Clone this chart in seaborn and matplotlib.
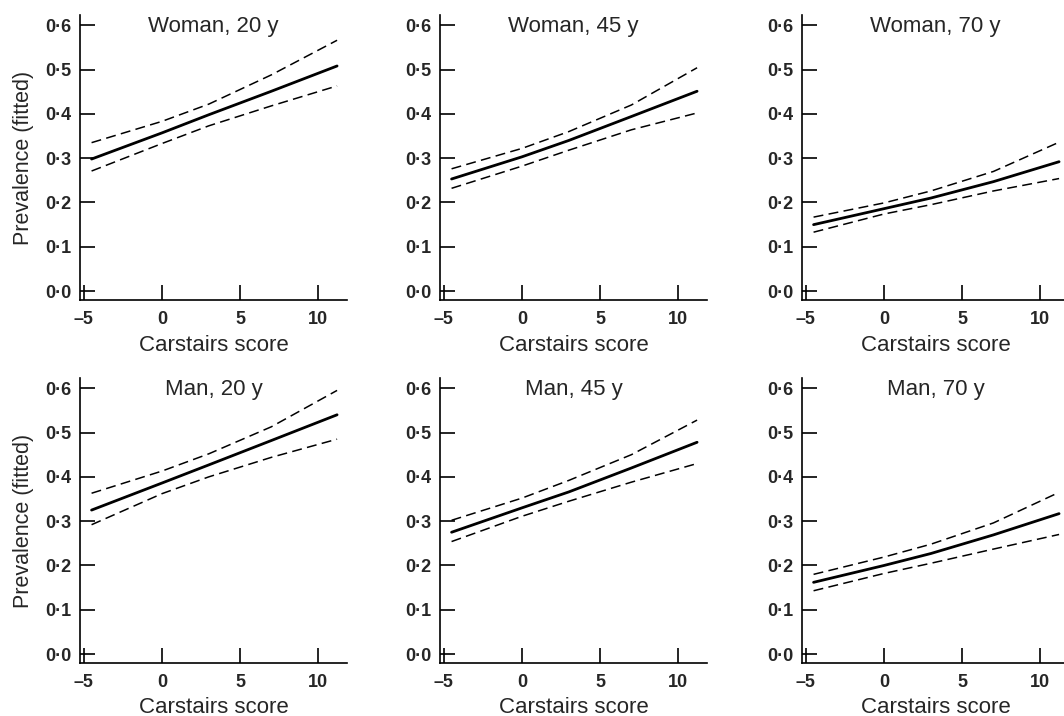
import numpy as np
import pandas as pd
import matplotlib
matplotlib.use("Agg")
import matplotlib.pyplot as plt
import seaborn as sns

# Carstairs score positions where the fitted curves were read
carstairs = [-4.5, 0, 3, 7, 11.2]

# fitted prevalence and 95% limits
w20_fit = [0.298, 0.357, 0.398, 0.451, 0.508]
w20_lo = [0.271, 0.333, 0.373, 0.418, 0.463]
w20_hi = [0.335, 0.383, 0.422, 0.488, 0.566]

w45_fit = [0.253, 0.303, 0.340, 0.394, 0.451]
w45_lo = [0.232, 0.282, 0.318, 0.364, 0.402]
w45_hi = [0.276, 0.322, 0.360, 0.420, 0.504]

w70_fit = [0.150, 0.186, 0.210, 0.247, 0.292]
w70_lo = [0.133, 0.174, 0.195, 0.226, 0.254]
w70_hi = [0.167, 0.199, 0.226, 0.270, 0.336]

m20_fit = [0.325, 0.386, 0.427, 0.482, 0.540]
m20_lo = [0.292, 0.362, 0.400, 0.444, 0.485]
m20_hi = [0.363, 0.413, 0.452, 0.513, 0.595]

m45_fit = [0.275, 0.330, 0.366, 0.420, 0.478]
m45_lo = [0.254, 0.311, 0.345, 0.388, 0.430]
m45_hi = [0.302, 0.352, 0.392, 0.450, 0.528]

m70_fit = [0.162, 0.200, 0.227, 0.269, 0.317]
m70_lo = [0.143, 0.182, 0.205, 0.237, 0.270]
m70_hi = [0.180, 0.219, 0.248, 0.296, 0.365]

panel_titles = ["Woman, 20 y", "Woman, 45 y", "Woman, 70 y",
                "Man, 20 y", "Man, 45 y", "Man, 70 y"]

y_ticks = [0.0, 0.1, 0.2, 0.3, 0.4, 0.5, 0.6]
y_tick_labels = ["0·0", "0·1", "0·2", "0·3", "0·4", "0·5", "0·6"]
x_ticks = [-5, 0, 5, 10]
x_tick_labels = ["–5", "0", "5", "10"]

panels = [
    (w20_fit, w20_lo, w20_hi), (w45_fit, w45_lo, w45_hi), (w70_fit, w70_lo, w70_hi),
    (m20_fit, m20_lo, m20_hi), (m45_fit, m45_lo, m45_hi), (m70_fit, m70_lo, m70_hi),
]

sns.set_theme(style="ticks")
plt.rcParams["font.family"] = ["Liberation Sans", "DejaVu Sans"]

W, H = 1064, 716
fig = plt.figure(figsize=(W / 100, H / 100), dpi=100)

col_left_px = [80, 440, 802]
row_bottom_px = [300, 663]
ax_w_px, ax_h_px = 267.4, 285

for i, (fit, lo, hi) in enumerate(panels):
    r, c = divmod(i, 3)
    ax = fig.add_axes([col_left_px[c] / W, (H - row_bottom_px[r]) / H,
                       ax_w_px / W, ax_h_px / H])
    df = pd.DataFrame({"x": carstairs, "fit": fit, "lo": lo, "hi": hi})
    sns.lineplot(data=df, x="x", y="fit", ax=ax, color="black", lw=2.0,
                 estimator=None, sort=False)
    for col in ["lo", "hi"]:
        sns.lineplot(data=df, x="x", y=col, ax=ax, color="black", lw=1.1,
                     linestyle=(0, (6.5, 3.5)), estimator=None, sort=False)

    ax.set_xlim(-5.24, 11.86)
    ax.set_ylim(-0.02, 0.623)
    ax.set_xticks(x_ticks)
    ax.set_xticklabels(x_tick_labels)
    ax.set_yticks(y_ticks)
    ax.set_yticklabels(y_tick_labels)
    ax.tick_params(direction="in", length=10.5, width=1.2, color="black")
    ax.tick_params(axis="y", pad=6)
    ax.tick_params(axis="x", pad=8)
    for lab in ax.get_xticklabels() + ax.get_yticklabels():
        lab.set_fontsize(13)
        lab.set_fontweight("bold")
    for side in ["top", "right"]:
        ax.spines[side].set_visible(False)
    for side in ["left", "bottom"]:
        ax.spines[side].set_linewidth(1.2)
        ax.spines[side].set_color("black")

    ax.set_xlabel("Carstairs score", fontsize=16, labelpad=5 if r == 0 else 4)
    if c == 0:
        ax.set_ylabel("Prevalence (fitted)", fontsize=15.5, labelpad=8)
    else:
        ax.set_ylabel("")
    ax.text(0.5, 0.998, panel_titles[i], transform=ax.transAxes,
            ha="center", va="top", fontsize=16)

fig.savefig("out.png", dpi=100)
